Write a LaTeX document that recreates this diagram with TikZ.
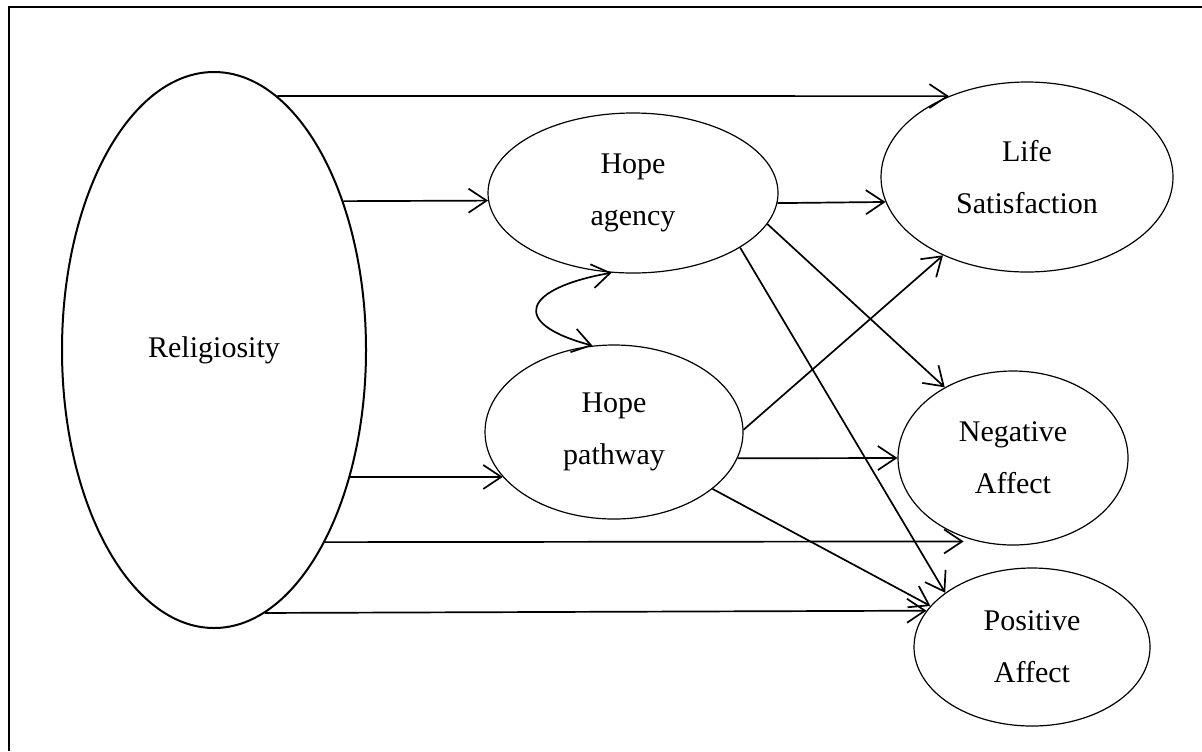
\documentclass[tikz,border=0pt]{standalone}
\usepackage{fontspec}
\setmainfont{Liberation Serif}
\usetikzlibrary{shapes,arrows.meta}

\tikzset{
  >={Straight Barb[length=9pt,width=12pt]},
  var/.style={ellipse, draw, line width=0.6pt, inner sep=0pt, align=center,
    font=\fontsize{15}{26}\selectfont},
  link/.style={->, line width=0.85pt}
}

\begin{document}
\begin{tikzpicture}[x=0.5pt,y=-0.5pt]
        \useasboundingbox (0,0) rectangle (1202,751);
        \draw[line width=0.7pt] (9,751) -- (9,7) -- (1202,7);

        \node[var, line width=1pt, minimum width=152pt, minimum height=278pt] (rel) at (214,350) {Religiosity};
        \node[var, minimum width=145pt, minimum height=80pt] (agency) at (633,193) {Hope\\agency};
        \node[var, minimum width=129pt, minimum height=87pt] (pathway) at (614,432) {Hope\\pathway};
        \node[var, minimum width=146pt, minimum height=95pt] (life) at (1027,177) {Life\\Satisfaction};
        \node[var, minimum width=115pt, minimum height=87pt] (neg) at (1013,458) {Negative\\Affect};
        \node[var, minimum width=118pt, minimum height=79pt] (pos) at (1032,647) {Positive\\Affect};

        \draw[link] (rel.76) -- (life.134.5);
        \draw[link] (rel.49) -- (agency.183.6);
        \draw[link] (rel.317.7) -- (pathway.202.2);
        \draw[link, shorten >=7pt] (rel.300.1) -- (neg.247.4);
        \draw[link] (rel.281.6) -- (pos.161.1);

        \draw[link] (agency.356.4) -- (life.190);
        \draw[link] (agency.347.4) -- (neg.134.1);
        \draw[link] (agency.333.9) -- (pos.148.5);

        \draw[link] (pathway.1) -- (life.223.8);
        \draw[link] (pathway.348.1) -- (neg.180);
        \draw[link] (pathway.330.5) -- (pos.158.6);

        \draw[link, <->] (agency.255.8) to[out=190,in=165,looseness=3] (pathway.104.4);
    \end{tikzpicture}
\end{document}
